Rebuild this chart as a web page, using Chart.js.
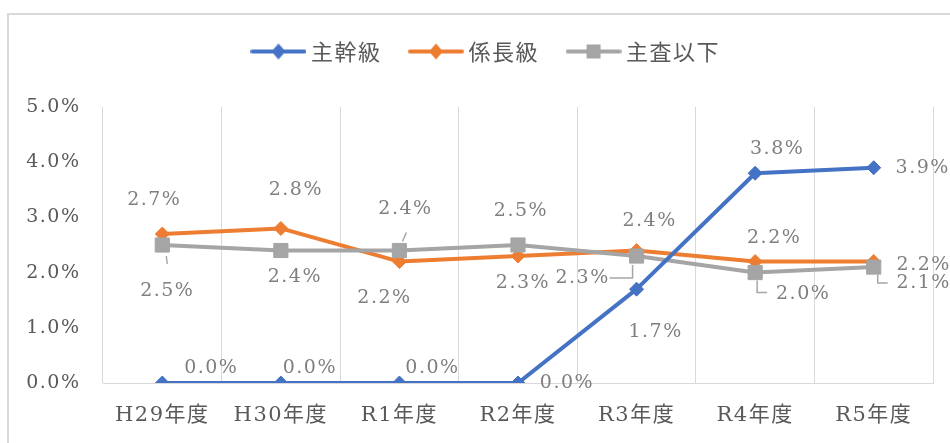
<!DOCTYPE html>
<html lang="ja">
<head>
<meta charset="utf-8">
<title>主幹級・係長級・主査以下</title>
<script src="https://cdn.jsdelivr.net/npm/chart.js@4.4.1/dist/chart.umd.min.js"></script>
<style>
  html, body { margin: 0; padding: 0; background: #fff; }
  #wrap { width: 950px; height: 443px; }
</style>
</head>
<body>
<div id="wrap"><canvas id="myChart" width="950" height="443"></canvas></div>
<script>
const labels = ["H29年度", "H30年度", "R1年度", "R2年度", "R3年度", "R4年度", "R5年度"];
const shukanValues = [0.0, 0.0, 0.0, 0.0, 1.7, 3.8, 3.9];
const kakarichoValues = [2.7, 2.8, 2.2, 2.3, 2.4, 2.2, 2.2];
const shusaValues = [2.5, 2.4, 2.4, 2.5, 2.3, 2.0, 2.1];
const yTicks = [0, 1, 2, 3, 4, 5];

// 値ラベルのずれ（点から）と引き出し線
const labelOffsets = [
  [[49, -15], [29, -15], [33, -15], [49, 0], [19, 43], [22, -24], [49, 0]],
  [[-8, -34], [15, -38], [-15, 37], [5, 27], [13, -29], [19, -23], [50, 4]],
  [[5, 46], [14, 27], [6, -41], [3, -34], [-54, 22], [48, 21], [50, 16]],
];
const leaders = [
  [],
  [],
  [[[4, 11], [5, 19]], null, [[3, -9], [7, -18]], null,
   [[-4, 9], [-4, 22], [-27, 22]], [[2, 8], [2, 20], [12, 20]], [[4, 8], [4, 16], [14, 16]]],
];

function legendIcon(color, shape) {
  const c = document.createElement("canvas");
  c.width = 56;
  c.height = 18;
  const g = c.getContext("2d");
  g.strokeStyle = color;
  g.lineWidth = 4;
  g.lineCap = "round";
  g.beginPath();
  g.moveTo(2, 9);
  g.lineTo(54, 9);
  g.stroke();
  g.fillStyle = color;
  g.beginPath();
  if (shape === "diamond") {
    g.moveTo(28, 1);
    g.lineTo(35, 9);
    g.lineTo(28, 17);
    g.lineTo(21, 9);
    g.closePath();
  } else {
    g.rect(21, 2, 14, 14);
  }
  g.fill();
  return c;
}

const icons = [
  legendIcon("#4472C4", "diamond"),
  legendIcon("#ED7D31", "diamond"),
  legendIcon("#A5A5A5", "square"),
];

const framePlugin = {
  id: "frame",
  afterInit(chart) {
    // 凡例とグラフの間をあける
    const fit = chart.legend.fit;
    chart.legend.fit = function () {
      fit.call(this);
      this.height += 34.5;
    };
  },
  beforeUpdate(chart) {
    chart.ctx.letterSpacing = "1.5px";
  },
  afterLayout(chart) {
    // 凡例を少し右へ
    chart.legend.left += 22;
    chart.legend.right += 22;
  },
  beforeDraw(chart) {
    const ctx = chart.ctx;
    ctx.letterSpacing = "1.5px";
    ctx.save();
    ctx.strokeStyle = "#d9d9d9";
    ctx.lineWidth = 2;
    ctx.beginPath();
    ctx.moveTo(8, chart.height);
    ctx.lineTo(8, 14);
    ctx.lineTo(chart.width, 14);
    ctx.stroke();
    ctx.restore();
  },
};

const valueLabels = {
  id: "valueLabels",
  afterDatasetsDraw(chart) {
    const ctx = chart.ctx;
    ctx.save();
    ctx.font = "19px 'DejaVu Serif'";
    ctx.fillStyle = "#7f7f7f";
    ctx.textAlign = "center";
    ctx.textBaseline = "middle";
    ctx.strokeStyle = "#a6a6a6";
    ctx.lineWidth = 1.5;
    chart.data.datasets.forEach((ds, d) => {
      const meta = chart.getDatasetMeta(d);
      meta.data.forEach((pt, i) => {
        const lead = leaders[d][i];
        if (lead) {
          ctx.beginPath();
          lead.forEach(([lx, ly], k) => {
            if (k === 0) ctx.moveTo(pt.x + lx, pt.y + ly);
            else ctx.lineTo(pt.x + lx, pt.y + ly);
          });
          ctx.stroke();
        }
        const [dx, dy] = labelOffsets[d][i];
        ctx.fillText(ds.data[i].toFixed(1) + "%", pt.x + dx, pt.y + dy);
      });
    });
    ctx.restore();
  },
};

const ctx = document.getElementById("myChart");
const lineChart = new Chart(ctx, {
  type: "line",
  data: {
    labels: labels,
    datasets: [
      {
        label: "主幹級",
        data: shukanValues,
        borderColor: "#4472C4",
        backgroundColor: "#4472C4",
        pointStyle: "rectRot",
        order: 0,
      },
      {
        label: "係長級",
        data: kakarichoValues,
        borderColor: "#ED7D31",
        backgroundColor: "#ED7D31",
        pointStyle: "rectRot",
        order: 2,
      },
      {
        label: "主査以下",
        data: shusaValues,
        borderColor: "#A5A5A5",
        backgroundColor: "#A5A5A5",
        pointStyle: "rect",
        pointRadius: 10,
        order: 1,
      },
    ],
  },
  options: {
    responsive: false,
    devicePixelRatio: 1,
    animation: false,
    layout: {
      padding: { left: 0, right: 17, top: 7.5, bottom: 0 },
    },
    elements: {
      line: { borderWidth: 4, tension: 0, borderCapStyle: "round", borderJoinStyle: "round" },
      point: { radius: 7, borderWidth: 1, hoverRadius: 7 },
    },
    plugins: {
      tooltip: { enabled: false },
      legend: {
        position: "top",
        labels: {
          usePointStyle: true,
          pointStyleWidth: 43,
          padding: 33,
          color: "#595959",
          font: { family: "'Noto Sans CJK JP'", size: 22 },
          generateLabels: (chart) =>
            chart.data.datasets.map((ds, i) => ({
              text: ds.label,
              pointStyle: icons[i],
              fillStyle: ds.borderColor,
              strokeStyle: ds.borderColor,
              lineWidth: 0,
              hidden: false,
              fontColor: "#595959",
              datasetIndex: i,
            })),
        },
      },
    },
    scales: {
      x: {
        offset: true,
        afterFit: (s) => { s.height = 60; },
        grid: { offset: true, color: "#d9d9d9", lineWidth: 1, drawTicks: false },
        border: { display: true, color: "#d9d9d9", width: 1 },
        ticks: {
          color: "#595959",
          font: { family: "'DejaVu Serif', 'Noto Sans CJK JP'", size: 21 },
          padding: 20,
          maxRotation: 0,
          autoSkip: false,
        },
      },
      y: {
        min: 0,
        max: 5,
        afterFit: (s) => { s.width = 103; },
        afterBuildTicks: (s) => { s.ticks = yTicks.map((v) => ({ value: v })); },
        grid: { display: false, drawTicks: false },
        border: { display: false },
        ticks: {
          color: "#595959",
          font: { family: "'DejaVu Serif'", size: 19 },
          padding: 22.5,
          callback: (v) => v.toFixed(1) + "%",
        },
      },
    },
  },
  plugins: [framePlugin, valueLabels],
});
</script>
</body>
</html>
